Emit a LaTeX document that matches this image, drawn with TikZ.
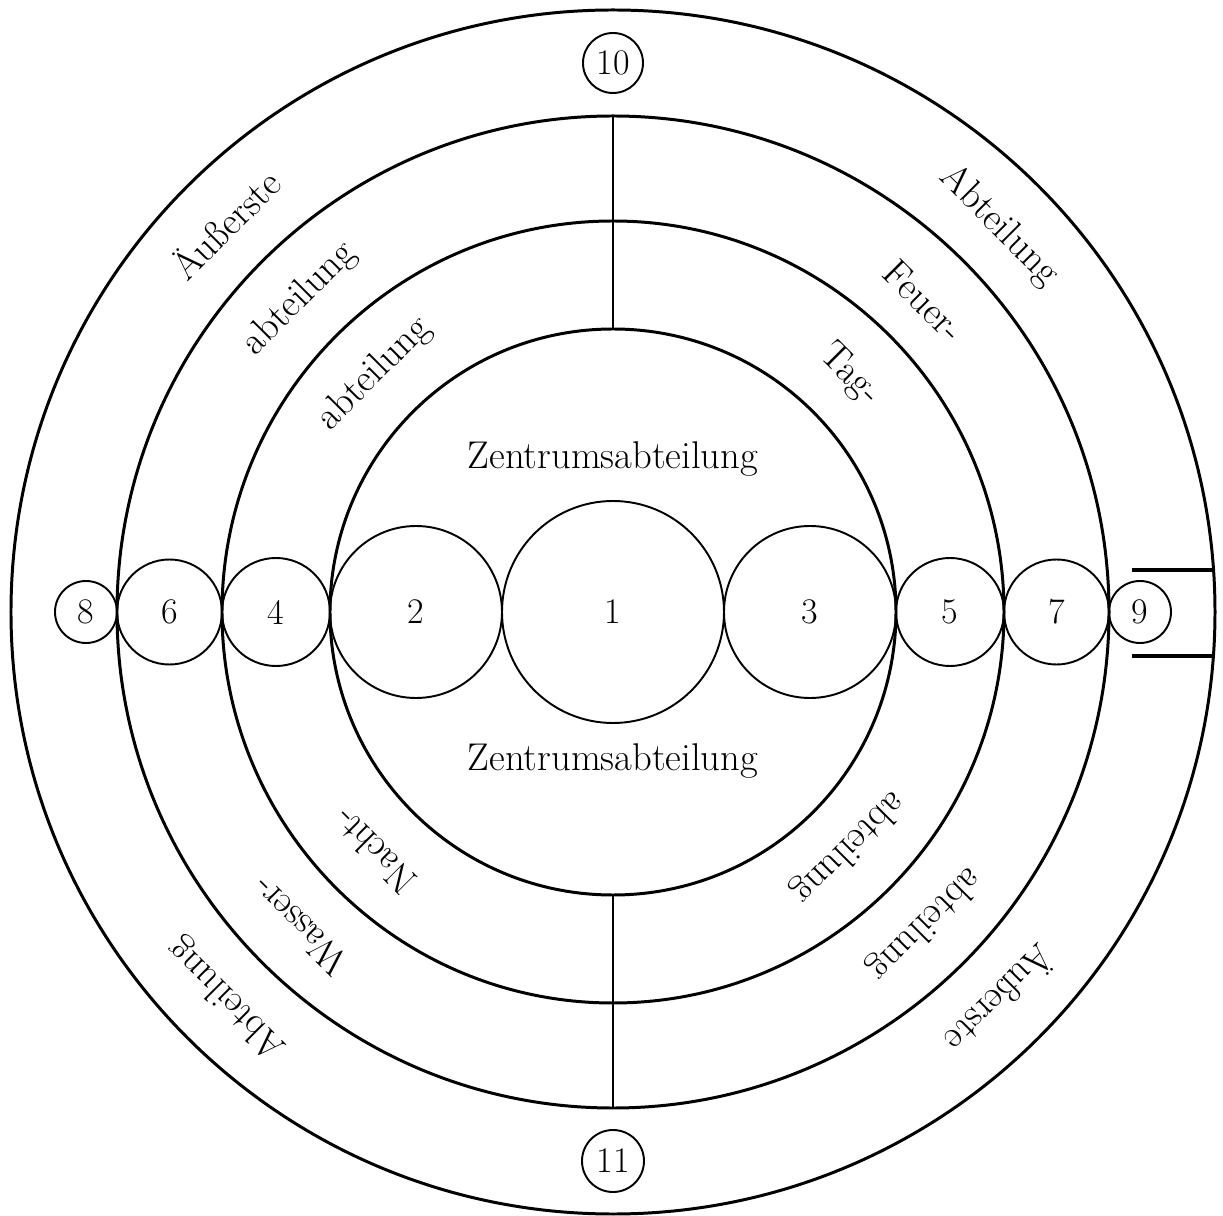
\documentclass[tikz,border=0pt]{standalone}
\usepackage{amsmath, amssymb}
\usepackage{tikz}

\begin{document}
\begin{tikzpicture}[x=0.02cm, y=0.02cm,
		anillo/.style={line width=1.7pt},
		celda/.style={line width=1.1pt},
		raya/.style={line width=1.5pt},
		tope/.style={line width=2pt},
		cifra/.style={font=\fontsize{20.5}{24}\selectfont, inner sep=0pt},
		texto/.style={font=\fontsize{22}{26}\selectfont, inner sep=0pt}]
			\useasboundingbox (-613,-604) rectangle (610,612);

			% Definir el centro y las posiciones de las celdas
			\coordinate (o) at (0, 0);          % Centro
			\coordinate (c2) at (-197, 0);      % Celda 2
			\coordinate (c3) at (197, 0);       % Celda 3
			\coordinate (c4) at (-337, 0);      % Celda 4
			\coordinate (c5) at (337, 0);       % Celda 5
			\coordinate (c6) at (-443.5, 0);    % Celda 6
			\coordinate (c7) at (443.5, 0);     % Celda 7
			\coordinate (c8) at (-527, 0);      % Celda 8 (afuera)
			\coordinate (c9) at (527, 0);       % Celda 9 (afuera)
			\coordinate (c10) at (0, 549);      % Celda 10 (arriba)
			\coordinate (c11) at (0, -549);     % Celda 11 (abajo)

			% Dibujar los anillos
			\draw[anillo] (o) circle (602);
			\draw[anillo] (o) circle (496);
			\draw[anillo] (o) circle (391);
			\draw[anillo] (o) circle (283);

			% Dibujar las celdas numeradas
			\draw[celda] (o) circle (111) node[cifra] (n1) {1};
			\draw[celda] (c2) circle (86) node[cifra] (n2) {2};
			\draw[celda] (c3) circle (86) node[cifra] (n3) {3};
			\draw[celda] (c4) circle (54) node[cifra] (n4) {4};
			\draw[celda] (c5) circle (54) node[cifra] (n5) {5};
			\draw[celda] (c6) circle (52.5) node[cifra] (n6) {6};
			\draw[celda] (c7) circle (52.5) node[cifra] (n7) {7};
			\draw[celda] (c8) circle (31) node[cifra] (n8) {8};
			\draw[celda] (c9) circle (31) node[cifra] (n9) {9};
			\draw[celda] (c10) circle (30) node[cifra] (n10) {10};
			\draw[celda] (c11) circle (31) node[cifra] (n11) {11};

			% Dibujar las divisiones verticales
			\coordinate (v1) at (0, 283);
			\coordinate (v2) at (0, 496);
			\coordinate (v3) at (0, -283);
			\coordinate (v4) at (0, -496);
			\draw[raya] (v1) -- (v2);
			\draw[raya] (v3) -- (v4);

			% Dibujar la entrada junto a la celda 9
			\coordinate (e1) at (519, 42);
			\coordinate (e2) at (600.5, 42);
			\coordinate (e3) at (519, -44);
			\coordinate (e4) at (600.4, -44);
			\draw[tope] (e1) -- (e2);
			\draw[tope] (e3) -- (e4);

			% Textos del centro
			\node[texto] (z1) at (0, 153) {Zentrumsabteilung};
			\node[texto] (z2) at (0, -149) {Zentrumsabteilung};

			% Textos de los anillos (arriba)
			\node[texto, rotate=45] (t1) at (135:549) {Äußerste};
			\node[texto, rotate=45] (t2) at (135:443) {abteilung};
			\node[texto, rotate=45] (t3) at (135:337) {abteilung};
			\node[texto, rotate=-45] (t4) at (45:546) {Abteilung};
			\node[texto, rotate=-45] (t5) at (45:440) {Feuer-};
			\node[texto, rotate=-45] (t6) at (45:335) {Tag-};

			% Textos de los anillos (abajo)
			\node[texto, rotate=135] (t7) at (225:546) {Abteilung};
			\node[texto, rotate=135] (t8) at (225:444) {Wasser-};
			\node[texto, rotate=135] (t9) at (225:338) {Nacht-};
			\node[texto, rotate=-135] (t10) at (-45:549) {Äußerste};
			\node[texto, rotate=-135] (t11) at (-45:441) {abteilung};
			\node[texto, rotate=-135] (t12) at (-45:333) {abteilung};

		\end{tikzpicture}
\end{document}
